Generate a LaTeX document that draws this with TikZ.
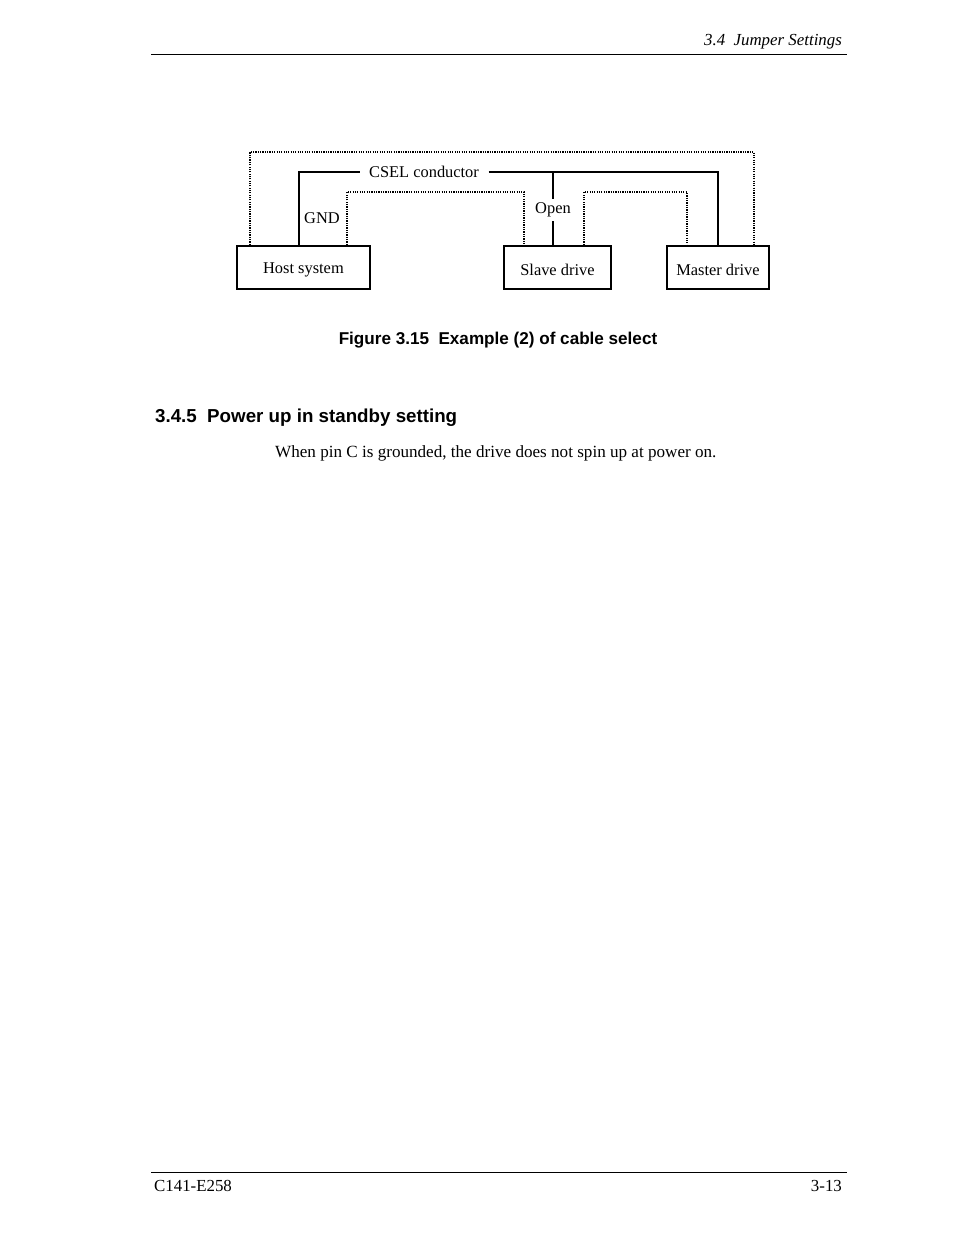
\documentclass[tikz,border=0pt]{standalone}
\usepackage{fontspec}
\setmainfont{Liberation Serif}
\setsansfont{Liberation Sans}
\begin{document}
\begin{tikzpicture}[x=0.03cm,y=-0.03cm,box/.style={draw,line width=1.6pt,anchor=north west,inner sep=0pt},cond/.style={line width=0.9pt},pin/.style={densely dotted,line width=1pt},lbl/.style={font=\fontsize{14}{16}\selectfont}]
\useasboundingbox (0,0) rectangle (954,1235);
% page frame
\draw[line width=0.8pt] (151,54) -- (847,54);
\node[anchor=east,font=\itshape\fontsize{14.4}{16}\selectfont] (hdr) at (846,42) {3.4~~Jumper Settings};
\draw[line width=0.8pt] (151,1172) -- (847,1172);
\node[anchor=west,font=\fontsize{14.4}{16}\selectfont] (ftl) at (150,1186) {C141-E258};
\node[anchor=east,font=\fontsize{14.4}{16}\selectfont] (ftr) at (846,1186) {3-13};

% boxes
\node[box,minimum width=133*0.03cm,minimum height=43*0.03cm] (H) at (236,245) {};
\node[lbl] at ([yshift=-2]H.center) {Host system};
\node[box,minimum width=107*0.03cm,minimum height=43*0.03cm] (S) at (503,245) {};
\node[lbl] at ([yshift=-2]S.center) {Slave drive};
\node[box,minimum width=102*0.03cm,minimum height=43*0.03cm] (M) at (666,245) {};
\node[lbl] at ([yshift=-2]M.center) {Master drive};

% CSEL conductor
\node[lbl,inner xsep=8pt] (csel) at (424,172) {CSEL conductor};
\coordinate (hc) at (299,245);
\coordinate (mc) at (718,245);
\draw[cond] (hc) |- (csel.west);
\draw[cond] (csel.east) -| (mc);
\node[lbl] (open) at (553,210) {Open};
\draw[cond] (553,172) -- (open.north);
\draw[cond] (open.south) -- (553,245);
\node[lbl] (gnd) at (322,218) {GND};

% other conductors
\draw[pin] (250,245) |- (754,152) -- (754,245);
\draw[pin] (347,245) |- (524,192) -- (524,245);
\draw[pin] (584,245) |- (687,192) -- (687,245);

% text
\node[font=\sffamily\bfseries\fontsize{14.6}{16}\selectfont] (cap) at (498,340) {Figure 3.15~~Example (2) of cable select};
\node[anchor=west,font=\sffamily\bfseries\fontsize{16}{18}\selectfont] (sec) at (151,418) {3.4.5~~Power up in standby setting};
\node[anchor=west,font=\fontsize{14.6}{16}\selectfont] (body) at (271,453) {When pin C is grounded, the drive does not spin up at power on.};
\end{tikzpicture}
\end{document}
